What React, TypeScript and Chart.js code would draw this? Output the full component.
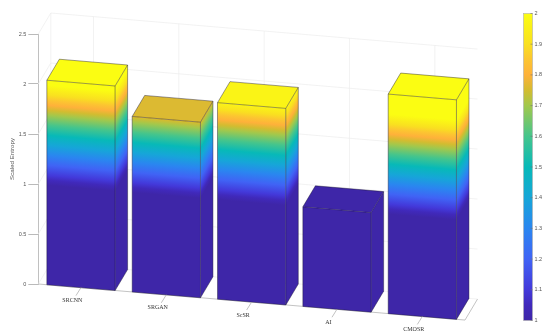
import React, { useEffect, useRef } from "react";
import { Chart, registerables } from "chart.js";

Chart.register(...registerables);

const categories = ["SRCNN", "SRGAN", "ScSR", "AI", "CMOSR"];
const entropyValues = [2.05, 1.76, 1.97, 1.0, 2.2];
const yTicks = [0, 0.5, 1, 1.5, 2, 2.5];
const colorbarTicks = [1, 1.1, 1.2, 1.3, 1.4, 1.5, 1.6, 1.7, 1.8, 1.9, 2];
const colorStops = [1, 1.05, 1.1, 1.2, 1.3, 1.4, 1.5, 1.6, 1.7, 1.75, 1.8, 1.85, 1.9, 2];
const colorValues = [
  "#3e26a8", "#4029bb", "#4339da", "#4063f5", "#2a86f0", "#16a6d8", "#07b9b8", "#45c58c",
  "#a2c84c", "#d3bc30", "#feb13a", "#fcc531", "#f9e020", "#fbfd12",
];

const SHEAR = 0.0845;
const DEPTH_X = 12.5;
const DEPTH_Y = -21;
const EDGE = "rgba(25,22,50,0.72)";

function hexToRgb(h: string) {
  return [1, 3, 5].map((i) => parseInt(h.slice(i, i + 2), 16));
}

function colorAt(v: number) {
  const c = Math.min(2, Math.max(1, v));
  for (let i = 0; i < colorStops.length - 1; i++) {
    if (c <= colorStops[i + 1]) {
      const t = (c - colorStops[i]) / (colorStops[i + 1] - colorStops[i]);
      const a = hexToRgb(colorValues[i]);
      const b = hexToRgb(colorValues[i + 1]);
      const m = a.map((x, j) => Math.round(x + (b[j] - x) * t));
      return `rgb(${m[0]},${m[1]},${m[2]})`;
    }
  }
  return colorValues[colorValues.length - 1];
}

function rampGradient(ctx: CanvasRenderingContext2D, yLow: number, yHigh: number) {
  const g = ctx.createLinearGradient(0, yLow, 0, yHigh);
  colorStops.forEach((s, i) => g.addColorStop(s - 1, colorValues[i]));
  return g;
}

const walls = {
  id: "walls",
  beforeDatasetsDraw(chart: any) {
    const { ctx, chartArea, scales } = chart;
    const { left, right } = chartArea;
    const y = scales.y;
    const x = scales.x;
    const k = SHEAR * (right - left);
    ctx.save();
    ctx.lineWidth = 0.7;
    ctx.strokeStyle = "#ececec";
    const line = (a: number, b: number, c: number, d: number) => {
      ctx.beginPath();
      ctx.moveTo(a, b);
      ctx.lineTo(c, d);
      ctx.stroke();
    };
    yTicks.forEach((t) => {
      const p = y.getPixelForValue(t);
      line(left, p, left + DEPTH_X, p + DEPTH_Y);
      line(left + DEPTH_X, p + DEPTH_Y, right + DEPTH_X, p + DEPTH_Y + k);
    });
    const top = y.getPixelForValue(2.5);
    const base = y.getPixelForValue(0);
    line(left + DEPTH_X, top + DEPTH_Y, left + DEPTH_X, base + DEPTH_Y);
    categories.forEach((_, i) => {
      const cx = x.getPixelForValue(i);
      const off = SHEAR * (cx - left);
      line(cx + DEPTH_X, top + DEPTH_Y + off, cx + DEPTH_X, base + DEPTH_Y + off);
      line(cx, base + off, cx + DEPTH_X, base + DEPTH_Y + off);
    });
    ctx.strokeStyle = "#b4b4b4";
    ctx.lineWidth = 0.8;
    line(left, base, right, base + k);
    line(right, base + k, right + DEPTH_X, base + k + DEPTH_Y);
    ctx.restore();

    ctx.save();
    ctx.transform(1, SHEAR, 0, 1, 0, -SHEAR * left + 0.5);
  },
  afterDatasetsDraw(chart: any) {
    const { ctx, chartArea, scales } = chart;
    ctx.restore();
    const { left } = chartArea;
    const y = scales.y;
    const x = scales.x;
    const meta = chart.getDatasetMeta(0);
    const slope = DEPTH_Y / DEPTH_X;

    meta.data.forEach((bar: any, i: number) => {
      const xl = bar.x - bar.width / 2;
      const xr = bar.x + bar.width / 2;
      const yTop = bar.y;
      const yBase = bar.base;
      const off = (px: number) => SHEAR * (px - left) + 0.5;

      // side face
      ctx.save();
      ctx.transform(1, slope, 0, 1, xr, off(xr));
      ctx.fillStyle = rampGradient(ctx, y.getPixelForValue(1), y.getPixelForValue(2));
      ctx.fillRect(0, yTop, DEPTH_X, yBase - yTop);
      ctx.restore();

      // top face
      ctx.beginPath();
      ctx.moveTo(xl, yTop + off(xl));
      ctx.lineTo(xr, yTop + off(xr));
      ctx.lineTo(xr + DEPTH_X, yTop + off(xr) + DEPTH_Y);
      ctx.lineTo(xl + DEPTH_X, yTop + off(xl) + DEPTH_Y);
      ctx.closePath();
      ctx.fillStyle = colorAt(entropyValues[i]);
      ctx.fill();

      // edges
      ctx.strokeStyle = EDGE;
      ctx.lineWidth = 0.6;
      ctx.stroke();
      ctx.beginPath();
      ctx.moveTo(xl, yTop + off(xl));
      ctx.lineTo(xl, yBase + off(xl));
      ctx.lineTo(xr, yBase + off(xr));
      ctx.lineTo(xr + DEPTH_X, yBase + off(xr) + DEPTH_Y);
      ctx.lineTo(xr + DEPTH_X, yTop + off(xr) + DEPTH_Y);
      ctx.moveTo(xr, yTop + off(xr));
      ctx.lineTo(xr, yBase + off(xr));
      ctx.stroke();
    });

    // category ticks and labels
    const axisBase = y.getPixelForValue(0);
    ctx.save();
    ctx.font = "6px 'Liberation Serif'";
    ctx.fillStyle = "#333333";
    ctx.textAlign = "center";
    ctx.textBaseline = "middle";
    ctx.strokeStyle = "#a8a8a8";
    ctx.lineWidth = 0.7;
    categories.forEach((label, i) => {
      const cx = x.getPixelForValue(i);
      const yy = axisBase + SHEAR * (cx - left);
      ctx.beginPath();
      ctx.moveTo(cx, yy);
      ctx.lineTo(cx - 5, yy + 8);
      ctx.stroke();
      ctx.fillText(label, cx - 8.6, yy + 13);
    });
    ctx.restore();

    // colorbar
    const bx = 523.5;
    const bw = 9;
    const bt = 13.5;
    const bb = 320.5;
    ctx.save();
    ctx.fillStyle = rampGradient(ctx, bb, bt);
    ctx.fillRect(bx, bt, bw, bb - bt);
    ctx.strokeStyle = "#b0b0b0";
    ctx.lineWidth = 0.6;
    ctx.strokeRect(bx, bt, bw, bb - bt);
    ctx.font = "5.5px 'Liberation Sans'";
    ctx.fillStyle = "#555555";
    ctx.textAlign = "left";
    ctx.textBaseline = "middle";
    colorbarTicks.forEach((t) => {
      const p = bb + ((t - 1) / 1) * (bt - bb);
      ctx.strokeStyle = "#707070";
      ctx.beginPath();
      ctx.moveTo(bx + bw - 2, p);
      ctx.lineTo(bx + bw, p);
      ctx.stroke();
      ctx.fillText(String(t), bx + bw + 2, p);
    });
    ctx.restore();
  },
};

export default function App() {
  const ref = useRef<HTMLCanvasElement | null>(null);
  useEffect(() => {
    if (!ref.current) return;
    const chart = new Chart(ref.current, {
      type: "bar",
      data: {
        labels: categories,
        datasets: [
          {
            label: "Scaled Entropy",
            data: entropyValues,
            backgroundColor: (c: any) => {
              const { chart: ch } = c;
              if (!ch.chartArea) return colorValues[0];
              return rampGradient(ch.ctx, ch.scales.y.getPixelForValue(1), ch.scales.y.getPixelForValue(2));
            },
            borderWidth: 0,
            barPercentage: 0.8,
            categoryPercentage: 1,
          },
        ],
      },
      options: {
        responsive: false,
        animation: false,
        layout: { padding: { left: 0, right: 85, top: 34, bottom: 51 } },
        plugins: { legend: { display: false }, tooltip: { enabled: false } },
        scales: {
          x: { type: "category", display: false },
          y: {
            type: "linear",
            min: 0,
            max: 2.5,
            afterFit: (s: any) => {
              s.width = 38.3;
            },
            afterBuildTicks: (s: any) => {
              s.ticks = yTicks.map((value) => ({ value }));
            },
            grid: { drawOnChartArea: false, drawTicks: true, tickLength: 10, color: "#a8a8a8", lineWidth: 0.8 },
            border: { display: true, color: "#b0b0b0", width: 0.8 },
            ticks: {
              padding: 2,
              color: "#555555",
              font: { family: "'Liberation Sans'", size: 5.5 },
              callback: (v: any) => String(v),
            },
            title: {
              display: true,
              text: "Scaled Entropy",
              color: "#555555",
              font: { family: "'Liberation Sans'", size: 6.2 },
              padding: { top: 9, bottom: 0 },
            },
          },
        },
      },
      plugins: [walls],
    } as any);
    return () => chart.destroy();
  }, []);
  return (
    <div style={{ position: "absolute", left: 0, top: 0, width: 550, height: 335 }}>
      <canvas ref={ref} width={550} height={335} style={{ display: "block", width: 550, height: 335 }} />
    </div>
  );
}
